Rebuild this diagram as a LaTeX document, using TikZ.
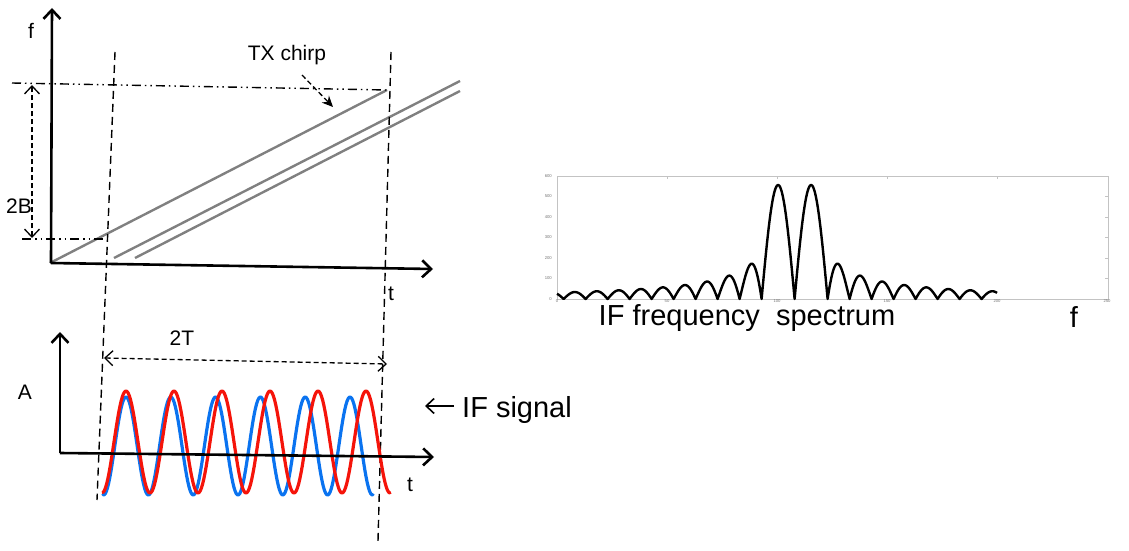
\documentclass[tikz,border=0pt]{standalone}
\usepackage{fontspec}
\setmainfont{Liberation Sans}
\usetikzlibrary{arrows.meta}
\definecolor{chirpgray}{RGB}{128,128,128}
\definecolor{waveblue}{RGB}{10,115,240}
\definecolor{wavered}{RGB}{245,20,10}
\definecolor{framegray}{RGB}{195,195,195}
\definecolor{ticktext}{RGB}{120,120,120}
\tikzset{
  axis/.style={line width=2.6pt,-{Straight Barb[length=9pt,width=17pt]}},
  vdash/.style={line width=1.4pt,dash pattern=on 8pt off 5pt},
  ddot/.style={line width=1.4pt,dash pattern=on 9pt off 4pt on 1.5pt off 4pt on 1.5pt off 4pt},
  chirp/.style={line width=2.4pt,chirpgray},
  dimarrow/.style={line width=1.3pt,dash pattern=on 5pt off 3pt,{Straight Barb[length=8pt,width=15pt]}-{Straight Barb[length=8pt,width=15pt]}},
  lbl/.style={inner sep=0pt,font=\fontsize{21}{24}\selectfont},
  big/.style={inner sep=0pt,font=\fontsize{29}{33}\selectfont},
  tiny/.style={inner sep=0pt,font=\fontsize{4.2}{5}\selectfont,text=ticktext},
  wave/.style={line width=3.2pt,line join=round,line cap=round}
}
\begin{document}
\begin{tikzpicture}[x=1pt,y=-1pt]
\useasboundingbox (0,0) rectangle (1129,551);
% ---------- top chart ----------
\coordinate (o1) at (51,263);
\coordinate (fTip) at (52,8);
\coordinate (tTip) at (433,269);
\coordinate (vlTop) at (115,52);
\coordinate (vlBot) at (97,500);
\coordinate (vrTop) at (391,52);
\coordinate (vrBot) at (378,541);
\coordinate (hTopL) at (12,83);
\coordinate (hTopR) at (387,90);
\coordinate (hBotL) at (22,239);
\coordinate (hBotR) at (106,239);
\coordinate (bUp) at (32,85);
\coordinate (bDn) at (32,238);
\coordinate (c1a) at (50,263);
\coordinate (c1b) at (387,90);
\coordinate (c2a) at (114,258);
\coordinate (c2b) at (460,81);
\coordinate (c3a) at (135,258);
\coordinate (c3b) at (460,91);
\coordinate (txA) at (302,75);
\coordinate (txB) at (333,107);

\draw[chirp] (c1a) -- (c1b);
\draw[chirp] (c2a) -- (c2b);
\draw[chirp] (c3a) -- (c3b);
\draw[ddot] (hTopL) -- (hTopR);
\draw[ddot] (hBotL) -- (hBotR);
\draw[dimarrow] (bDn) -- (bUp);
\draw[axis] (o1) -- (fTip);
\draw[axis] (o1) -- (tTip);
\draw[vdash] (vlTop) -- (vlBot);
\draw[vdash] (vrTop) -- (vrBot);
\draw[line width=1.3pt,dash pattern=on 5pt off 3pt,-{Stealth[length=11pt,width=10pt]}] (txA) -- (txB);

\node[lbl,anchor=base] (fLbl) at (31,38) {f};
\node[lbl,anchor=base] (tLbl) at (391,300) {t};
\node[lbl,anchor=base west] (bLbl) at (6,213) {2B};
\node[lbl,anchor=base] (txLbl) at (287,60) {TX chirp};

% ---------- bottom chart ----------
\coordinate (o2) at (60,453);
\coordinate (aTip) at (60,332);
\coordinate (t2Tip) at (434,457);
\coordinate (twoTL) at (104,358);
\coordinate (twoTR) at (387,364);

\draw[waveblue,wave] plot[domain=103:373,samples=240] (\x,{446-49*cos(8.0357*(\x-126))});
\draw[wavered,wave] plot[domain=103:390,samples=240] (\x,{442-51*cos(7.5*(\x-126))});
\draw[axis] (o2) -- (aTip);
\draw[axis] (o2) -- (t2Tip);
\draw[dimarrow] (twoTL) -- (twoTR);

\node[lbl,anchor=base] (aLbl) at (25,399) {A};
\node[lbl,anchor=base] (t2Lbl) at (410,491) {t};
\node[lbl,anchor=base] (twoTLbl) at (182,345) {2T};
\node[big,anchor=base west] (ifLbl) at (462,417) {IF signal};
\coordinate (ifArrowStart) at (454,406);
\coordinate (ifArrowEnd) at (425,406);
\draw[line width=1.6pt,-{Straight Barb[length=8pt,width=15pt]}] (ifArrowStart) -- (ifArrowEnd);

% ---------- spectrum ----------
\coordinate (sLL) at (557,299);
\coordinate (sUR) at (1108,176);
\draw[framegray,line width=0.8pt] (sLL) rectangle (sUR);
\foreach \k in {1,2,3,4}{
  \draw[framegray,line width=0.7pt] ({557+110*\k},176) -- ({557+110*\k},179);
}
\foreach \k in {1,...,5}{
  \draw[framegray,line width=0.7pt] (1108,{299-20.5*\k}) -- (1105,{299-20.5*\k});
}
\foreach \v [count=\i from 0] in {0,100,200,300,400,500,600}{
  \node[tiny,anchor=east] at (552,{299-20.5*\i}) {\v};
}
\foreach \v [count=\i from 0] in {0,50,100,150,200,250}{
  \node[tiny,anchor=north] at ({557+110*\i},299.6) {\v};
}
\draw[line width=2.4pt,line join=round] plot[domain=0:200,samples=801]
  ({557+2.2*\x},{299-0.205*((abs(\x-108)<15) ? 556*abs(sin(12*(\x-108))) : 3400/max(abs(\x-108),1)*abs(sin(18*(\x-3))))});
\node[big,anchor=base] (specLbl) at (747,325.5) {IF frequency\ \ spectrum};
\node[big,anchor=base] (fSpec) at (1074,327) {f};
\end{tikzpicture}
\end{document}
